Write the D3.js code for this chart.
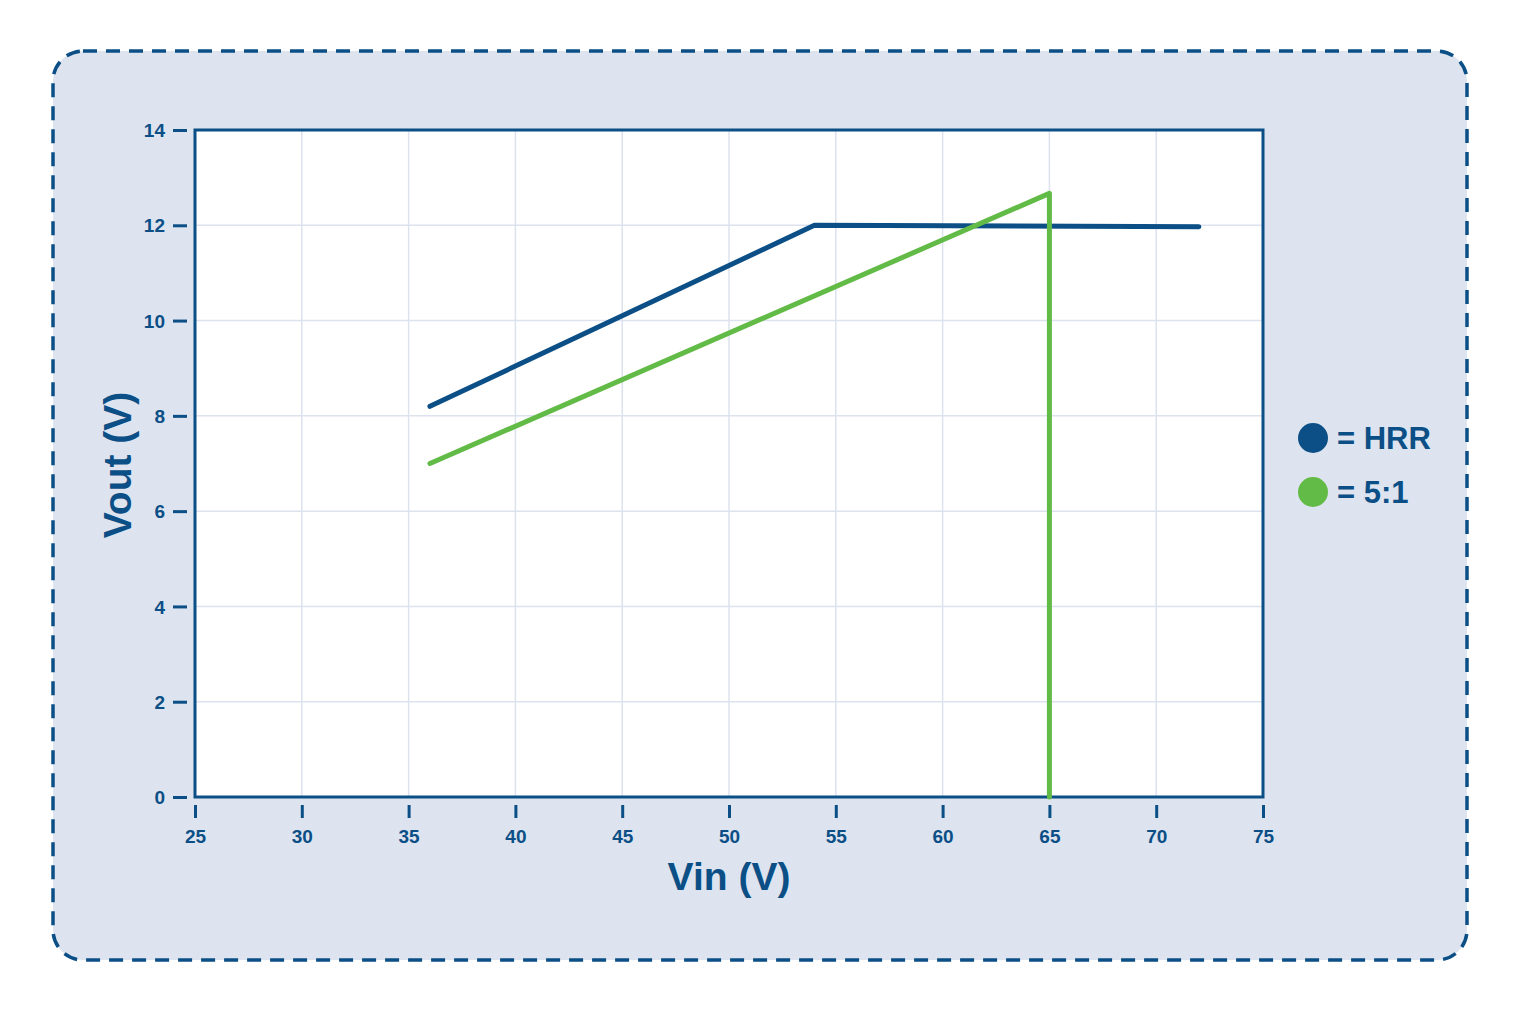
<!DOCTYPE html>
<html><head><meta charset="utf-8">
<script src="https://cdn.jsdelivr.net/npm/d3@7"></script>
<style>body{margin:0;background:#fff;}svg{display:block;font-family:"Liberation Sans",Arial,sans-serif;}</style>
</head><body>
<script>
const xTicks = [25,30,35,40,45,50,55,60,65,70,75];
const yTicks = [0,2,4,6,8,10,12,14];
const hrrVin = [36, 54, 72];
const hrrVout = [8.2, 12.0, 11.97];
const ratioVin = [36, 65, 65];
const ratioVout = [7.0, 12.67, 0];
const seriesNames = ["HRR", "5:1"];
const seriesColors = ["#0b4f86", "#62bb46"];

const W = 1520, H = 1013;
const blue = "#0b4f86";
const svg = d3.select("body").append("svg").attr("width", W).attr("height", H);

svg.append("rect").attr("x",53).attr("y",51).attr("width",1414).attr("height",909)
  .attr("rx",30).attr("fill","#dde4ef").attr("stroke",blue).attr("stroke-width",3.5)
  .attr("stroke-dasharray","14,9");

const x = d3.scaleLinear().domain([25,75]).range([195,1263]);
const y = d3.scaleLinear().domain([0,14]).range([797,130]);

svg.append("rect").attr("x",195).attr("y",130).attr("width",1068).attr("height",667).attr("fill","#fff");

const grid = svg.append("g");
grid.selectAll(".vx").data(xTicks).join("line")
  .attr("x1",d=>x(d)).attr("x2",d=>x(d)).attr("y1",130).attr("y2",797)
  .attr("stroke","#dce2ee").attr("stroke-width",1.5);
grid.selectAll(".hy").data(yTicks).join("line")
  .attr("y1",d=>y(d)).attr("y2",d=>y(d)).attr("x1",195).attr("x2",1263)
  .attr("stroke","#dce2ee").attr("stroke-width",1.5);

svg.append("rect").attr("x",195).attr("y",130).attr("width",1068).attr("height",667)
  .attr("fill","none").attr("stroke",blue).attr("stroke-width",3);

const xAxis = svg.append("g").attr("transform","translate(0,797)")
  .call(d3.axisBottom(x).tickValues(xTicks).tickSize(0).tickPadding(0).tickFormat(d3.format("d")));
xAxis.select(".domain").remove();
xAxis.selectAll(".tick text").remove();
xAxis.selectAll(".tick").each(function(d){
  const g = d3.select(this);
  g.append("line").attr("y1",8).attr("y2",21).attr("stroke",blue).attr("stroke-width",3);
  g.append("text").attr("y",46).attr("text-anchor","middle").attr("fill",blue)
    .attr("font-size",19).attr("font-weight","bold").text(d);
});

const yAxis = svg.append("g").attr("transform","translate(195,0)")
  .call(d3.axisLeft(y).tickValues(yTicks).tickSize(0).tickFormat(d3.format("d")));
yAxis.select(".domain").remove();
yAxis.selectAll(".tick text").remove();
yAxis.selectAll(".tick").each(function(d){
  const g = d3.select(this);
  g.append("line").attr("x1",-8).attr("x2",-22).attr("stroke",blue).attr("stroke-width",3);
  g.append("text").attr("x",-30).attr("dy","0.35em").attr("text-anchor","end").attr("fill",blue)
    .attr("font-size",19).attr("font-weight","bold").text(d);
});

const line = d3.line().x(d=>x(d[0])).y(d=>y(d[1]));
const hrr = hrrVin.map((v,i)=>[v,hrrVout[i]]);
const ratio = ratioVin.map((v,i)=>[v,ratioVout[i]]);
svg.append("path").attr("d",line(hrr)).attr("fill","none").attr("stroke",seriesColors[0])
  .attr("stroke-width",5).attr("stroke-linecap","round").attr("stroke-linejoin","round");
svg.append("path").attr("d",line(ratio)).attr("fill","none").attr("stroke",seriesColors[1])
  .attr("stroke-width",5).attr("stroke-linecap","round").attr("stroke-linejoin","round");

svg.append("text").attr("x",729).attr("y",890).attr("text-anchor","middle").attr("fill",blue)
  .attr("font-size",39).attr("font-weight","bold").text("Vin (V)");
svg.append("text").attr("transform","translate(131,465) rotate(-90)").attr("text-anchor","middle").attr("fill",blue)
  .attr("font-size",39).attr("font-weight","bold").text("Vout (V)");

const leg = svg.append("g");
seriesNames.forEach((n,i)=>{
  const cy = 438 + i*54;
  leg.append("circle").attr("cx",1313).attr("cy",cy).attr("r",15).attr("fill",seriesColors[i]);
  leg.append("text").attr("x",1337).attr("y",cy).attr("dy","0.36em").attr("fill",blue)
    .attr("font-size",31).attr("font-weight","bold").text("= " + n);
});
</script>
</body></html>
